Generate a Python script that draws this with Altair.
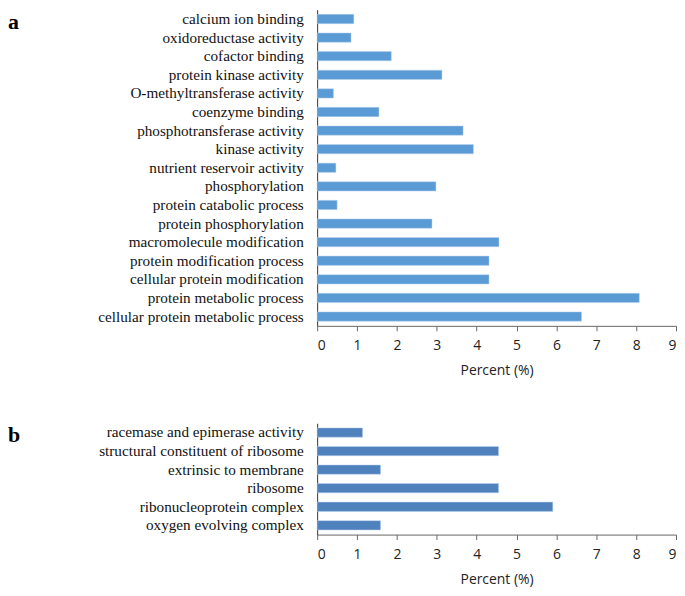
import altair as alt
import pandas as pd

cats_a = ["calcium ion binding", "oxidoreductase activity", "cofactor binding",
          "protein kinase activity", "O-methyltransferase activity", "coenzyme binding",
          "phosphotransferase activity", "kinase activity", "nutrient reservoir activity",
          "phosphorylation", "protein catabolic process", "protein phosphorylation",
          "macromolecule modification", "protein modification process",
          "cellular protein modification", "protein metabolic process",
          "cellular protein metabolic process"]
vals_a = [0.92, 0.85, 1.86, 3.13, 0.41, 1.55, 3.66, 3.92, 0.47, 2.98, 0.50, 2.88,
          4.56, 4.31, 4.31, 8.08, 6.63]

cats_b = ["racemase and epimerase activity", "structural constituent of ribosome",
          "extrinsic to membrane", "ribosome", "ribonucleoprotein complex",
          "oxygen evolving complex"]
vals_b = [1.14, 4.55, 1.59, 4.55, 5.91, 1.59]

x_ticks = list(range(0, 10))

df_a = pd.DataFrame({"term": cats_a, "pct": vals_a})
df_b = pd.DataFrame({"term": cats_b, "pct": vals_b})

x_axis = alt.Axis(values=x_ticks, title="Percent (%)", grid=False, ticks=True,
                  tickSize=5, tickColor="#666", domainColor="#666",
                  labelFont="Open Sans", labelFontSize=14, labelColor="#222",
                  labelPadding=8, titleFont="Open Sans", titleFontSize=14,
                  titleFontWeight="normal", titleColor="#222", titlePadding=11)


def panel(df, cats, color, h, letter, letter_y):
    bars = alt.Chart(df).mark_bar(color=color, stroke="#b8d3ee", strokeWidth=0.5).encode(
        y=alt.Y("term:N", sort=cats,
                scale=alt.Scale(paddingInner=0.5, paddingOuter=0.25),
                axis=alt.Axis(title=None, ticks=False, domainColor="#333",
                              labelFont="Liberation Serif", labelFontSize=15.3,
                              labelColor="#111", labelPadding=14, labelLimit=400)),
        x=alt.X("pct:Q", scale=alt.Scale(domain=[0, 9], nice=False), axis=x_axis),
    )
    lab = alt.Chart(pd.DataFrame({"t": [letter]})).mark_text(
        font="Liberation Serif", fontSize=22, fontWeight="bold", align="left",
        baseline="alphabetic", color="#000"
    ).encode(text="t:N", x=alt.value(-311), y=alt.value(letter_y))
    return alt.layer(bars, lab).properties(width=361, height=h)


pa = panel(df_a, cats_a, "#5b9bd5", 318, "a", 19)
pb = panel(df_b, cats_b, "#4f81bd", 112, "b", 19)

chart = alt.vconcat(pa, pb, spacing=46).properties(
    padding={"left": 0, "top": 0, "right": 0, "bottom": 0}
).configure_view(stroke=None).configure_concat(spacing=46)

chart.save("out.html", embed_options={"renderer": "svg", "actions": False})
